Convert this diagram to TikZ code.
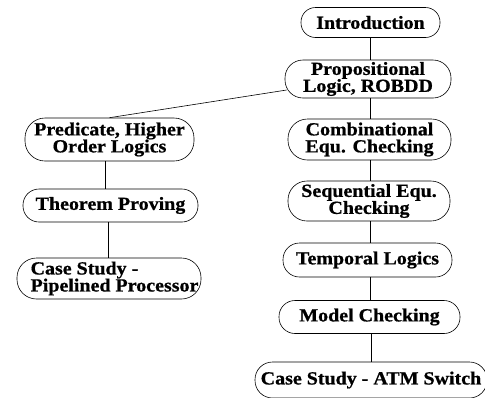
\documentclass[tikz,border=0pt]{standalone}
\usepackage{fontspec}
\setmainfont[FakeStretch=1.08, BoldFeatures={FakeBold=0.8}]{Liberation Serif}
\begin{document}
\begin{tikzpicture}[x=1pt,y=-1pt,
  topic/.style={draw, line width=0.6pt, rounded corners=#1, inner sep=0pt,
    align=center, font=\fontsize{18.5}{17}\selectfont\bfseries},
  topic/.default=15pt,
  link/.style={draw, line width=0.6pt}]
\useasboundingbox (0,0) rectangle (485,397);
\node[topic=14.5pt, minimum width=139, minimum height=30] (intro) at (370.5,22.5) {Introduction};
\node[topic=18pt, minimum width=166, minimum height=38] (prop) at (368,79) {Propositional\\Logic, ROBDD};
\node[topic=20pt, minimum width=169, minimum height=43] (pred) at (109.5,139.5) {Predicate, Higher\\Order Logics};
\node[topic=19.5pt, minimum width=163, minimum height=41] (comb) at (369.5,139.5) {Combinational\\Equ. Checking};
\node[topic=19pt, minimum width=162, minimum height=40] (seq) at (369,201) {Sequential Equ.\\Checking};
\node[topic=16pt, minimum width=175, minimum height=33] (thm) at (110.5,205.5) {Theorem Proving};
\node[topic=19.5pt, minimum width=184, minimum height=41, align=left] (pipe) at (109,278.5) {\hspace*{11pt}Case Study -\\\hspace*{11pt}Pipelined Processor};
\node[topic=16.5pt, minimum width=169, minimum height=34] (temp) at (367.5,260) {Temporal Logics};
\node[topic=16pt, minimum width=181, minimum height=33] (model) at (369.5,317) {Model Checking};
\node[topic=17.5pt, minimum width=232, minimum height=36] (atm) at (371,380) {Case Study - ATM Switch};
\draw[link] (intro.south -| 370,0) -- (prop.north -| 370,0);
\draw[link] (prop.south -| 370,0) -- (comb.north -| 370,0);
\draw[link] (comb.south -| 370,0) -- (seq.north -| 370,0);
\draw[link] (seq.south -| 370,0) -- (temp.north -| 370,0);
\draw[link] (temp.south -| 370,0) -- (model.north -| 370,0);
\draw[link] (model.south -| 371,0) -- (atm.north -| 371,0);
\draw[link] (pred.south -| 105,0) -- (thm.north -| 105,0);
\draw[link] (thm.south -| 108,0) -- (pipe.north -| 108,0);
\draw[link] (prop.west) ++(2,11) coordinate (pw) -- (pred.north);
\end{tikzpicture}
\end{document}
